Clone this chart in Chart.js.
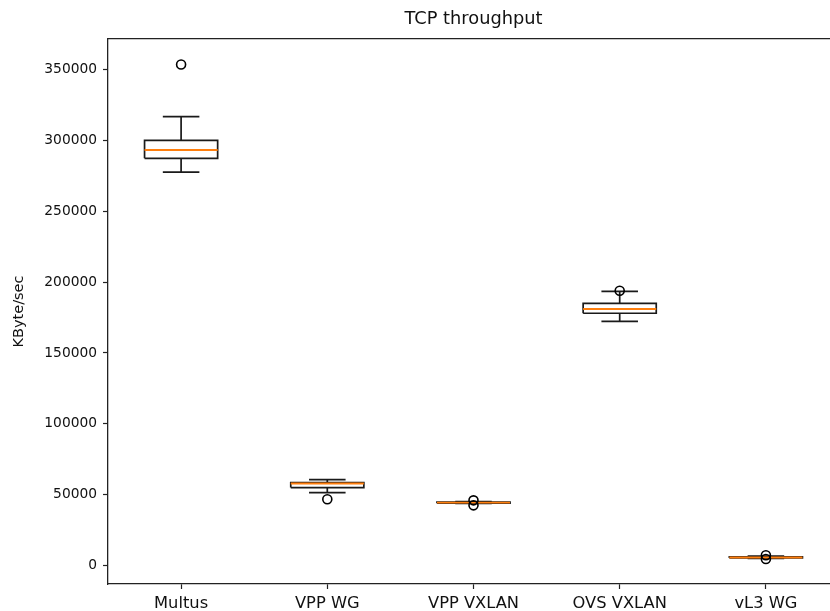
<!DOCTYPE html>
<html>
<head>
<meta charset="utf-8">
<script src="https://cdn.jsdelivr.net/npm/chart.js@4/dist/chart.umd.min.js"></script>
<style>
html,body{margin:0;padding:0;overflow:hidden;background:#fff;width:830px;height:611px;}
canvas{display:block;}
</style>
</head>
<body>
<canvas id="c" width="850" height="611"></canvas>
<script>
const categories = ['Multus', 'VPP WG', 'VPP VXLAN', 'OVS VXLAN', 'vL3 WG'];
const whiskerLow  = [277500, 51400, 43800, 172300, 5000];
const q1          = [287300, 55000, 44000, 178000, 5400];
const median      = [293200, 57900, 44400, 181000, 5700];
const q3          = [300000, 58500, 44700, 185000, 6200];
const whiskerHigh = [316700, 60600, 45200, 193400, 6700];
const fliers      = [[353500], [46800], [42500, 46000], [193900], [4600, 7300]];
const yTicks = [0, 50000, 100000, 150000, 200000, 250000, 300000, 350000];

const BOX_HALF = 0.25, CAP_HALF = 0.125;

const boxPts = [], whiskerPts = [], capPts = [], medPts = [], flierPts = [];
categories.forEach((c, k) => {
  const i = k + 1;
  boxPts.push({x: i - BOX_HALF, y: q1[k]}, {x: i + BOX_HALF, y: q1[k]},
              {x: i + BOX_HALF, y: q3[k]}, {x: i - BOX_HALF, y: q3[k]},
              {x: i - BOX_HALF, y: q1[k]}, {x: i, y: null});
  whiskerPts.push({x: i, y: q1[k]}, {x: i, y: whiskerLow[k]}, {x: i, y: null},
                  {x: i, y: q3[k]}, {x: i, y: whiskerHigh[k]}, {x: i, y: null});
  capPts.push({x: i - CAP_HALF, y: whiskerLow[k]}, {x: i + CAP_HALF, y: whiskerLow[k]}, {x: i, y: null},
              {x: i - CAP_HALF, y: whiskerHigh[k]}, {x: i + CAP_HALF, y: whiskerHigh[k]}, {x: i, y: null});
  medPts.push({x: i - BOX_HALF, y: median[k]}, {x: i + BOX_HALF, y: median[k]}, {x: i, y: null});
  fliers[k].forEach(v => flierPts.push({x: i, y: v}));
});

const FONT = 'DejaVu Sans';
const lineDs = (data, color, width, order) => ({
  type: 'line', data, borderColor: color, borderWidth: width, pointRadius: 0,
  tension: 0, spanGaps: false, fill: false, order
});

new Chart(document.getElementById('c'), {
  data: {
    datasets: [
      {type: 'scatter', data: flierPts, pointStyle: 'circle', pointRadius: 4.5,
       borderColor: '#000', borderWidth: 1.6, backgroundColor: 'rgba(0,0,0,0)', order: 0},
      lineDs(medPts, '#ff7f0e', 1.9, 1),
      lineDs(boxPts, '#1a1a1a', 1.7, 2),
      lineDs(capPts, '#1a1a1a', 1.7, 3),
      lineDs(whiskerPts, '#1a1a1a', 1.7, 4)
    ]
  },
  options: {
    responsive: false,
    animation: false,
    devicePixelRatio: 1,
    layout: {padding: {left: 0, right: 11, top: 0, bottom: 0}},
    plugins: {
      legend: {display: false},
      tooltip: {enabled: false},
      title: {display: true, fullSize: false, text: 'TCP throughput', color: '#111',
              font: {family: FONT, size: 17.8, weight: 'normal', lineHeight: 1.2},
              padding: {top: 9, bottom: 8.6}}
    },
    scales: {
      x: {
        type: 'linear', position: 'bottom', min: 0.5, max: 5.5,
        afterBuildTicks: s => { s.ticks = categories.map((c, k) => ({value: k + 1})); },
        afterFit: s => { s.height = 27; },
        ticks: {callback: v => categories[v - 1] || '', color: '#111', padding: 5,
                font: {family: FONT, size: 16.3}, maxRotation: 0, autoSkip: false},
        grid: {display: true, drawOnChartArea: false, tickLength: 5, tickColor: '#222', tickWidth: 1.2},
        border: {display: true, color: '#222', width: 1.3}
      },
      x2: {
        type: 'linear', position: 'top', min: 0.5, max: 5.5,
        afterFit: s => { s.height = 0; },
        ticks: {display: false},
        grid: {display: false},
        border: {display: true, color: '#222', width: 1.3}
      },
      y: {
        type: 'linear', position: 'left', min: -13000, max: 371500,
        afterBuildTicks: s => { s.ticks = yTicks.map(v => ({value: v})); },
        afterFit: s => { s.width = 108; },
        ticks: {callback: v => String(v), color: '#111', padding: 6,
                font: {family: FONT, size: 13.8}},
        grid: {display: true, drawOnChartArea: false, tickLength: 5, tickColor: '#222', tickWidth: 1.2},
        border: {display: true, color: '#222', width: 1.3},
        title: {display: true, text: 'KByte/sec', color: '#111',
                font: {family: FONT, size: 14.5}, padding: {top: 10.5, bottom: 4}}
      }
    }
  }
});
</script>
</body>
</html>
